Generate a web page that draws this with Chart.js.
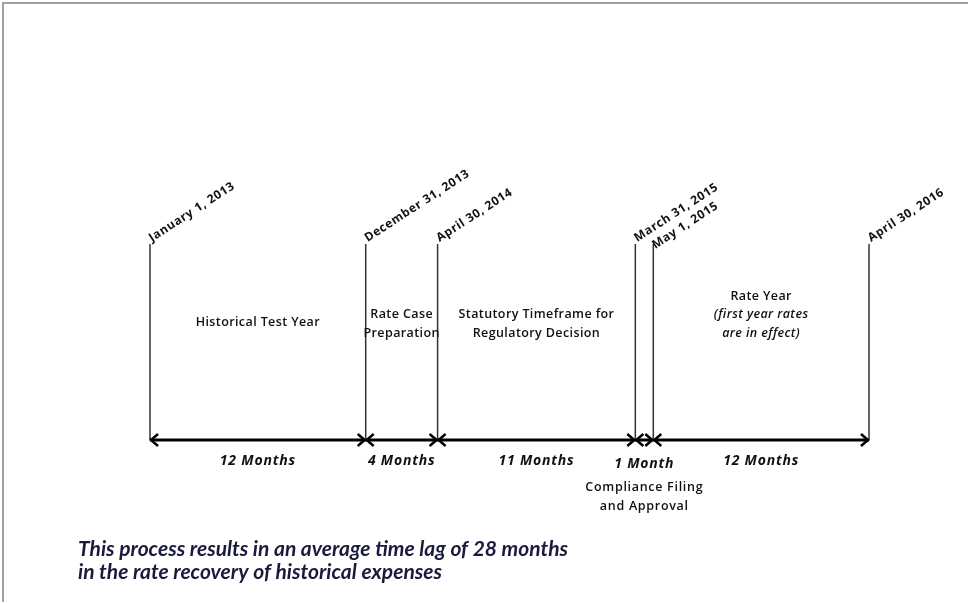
<!DOCTYPE html>
<html>
<head>
<meta charset="utf-8">
<script src="https://cdn.jsdelivr.net/npm/chart.js@4/dist/chart.umd.min.js"></script>
<style>
  body { margin: 0; background: #fff; }
  #wrap { position: relative; width: 970px; height: 604px; }
  .edge { position: absolute; background: #a0a0a0; }
</style>
</head>
<body>
<div id="wrap">
  <canvas id="timeline"></canvas>
  <div class="edge" style="left:2px;top:2px;width:966px;height:2px"></div>
  <div class="edge" style="left:2px;top:2px;width:2px;height:600px"></div>
</div>
<script>
// months counted from January 1, 2013
const milestoneMonths = [0, 12, 16, 27, 28, 40];
const milestoneLabels = ['January 1, 2013', 'December 31, 2013', 'April 30, 2014', 'March 31, 2015', 'May 1, 2015', 'April 30, 2016'];
const durationLabels = ['12 Months', '4 Months', '11 Months', '1 Month', '12 Months'];
const phaseLabels = [
  ['Historical Test Year'],
  ['Rate Case', 'Preparation'],
  ['Statutory Timeframe for', 'Regulatory Decision'],
  [],
  ['Rate Year', '(first year rates', 'are in effect)']
];
const belowLabels = [[], [], [], ['Compliance Filing', 'and Approval'], []];
const footnote = [
  'This process results in an average time lag of 28 months',
  'in the rate recovery of historical expenses'
];

const SANS = '"Open Sans", sans-serif';
const NOTE = 'Lato, "Open Sans", sans-serif';

const lineSets = milestoneMonths.map((m) => ({
  type: 'line',
  data: [{ x: m, y: 0 }, { x: m, y: 1 }],
  borderColor: '#333',
  borderWidth: 1.5,
  pointRadius: 0,
  clip: false
}));

const axisSet = {
  type: 'line',
  data: [{ x: milestoneMonths[0], y: 0 }, { x: milestoneMonths[milestoneMonths.length - 1], y: 0 }],
  borderColor: '#000',
  borderWidth: 3,
  pointRadius: 0,
  clip: false
};

const timelineText = {
  id: 'timelineText',
  afterDatasetsDraw(chart) {
    const { ctx, scales: { x, y } } = chart;
    const base = y.getPixelForValue(0);
    const top = y.getPixelForValue(1);
    ctx.save();
    ctx.fillStyle = '#111';
    ctx.strokeStyle = '#000';

    // arrowheads at both ends of each span
    ctx.lineWidth = 2.5;
    for (let i = 0; i < milestoneMonths.length - 1; i++) {
      const a = x.getPixelForValue(milestoneMonths[i]);
      const b = x.getPixelForValue(milestoneMonths[i + 1]);
      ctx.beginPath();
      ctx.moveTo(a + 8, base - 6); ctx.lineTo(a + 1, base); ctx.lineTo(a + 8, base + 6);
      ctx.moveTo(b - 8, base - 6); ctx.lineTo(b - 1, base); ctx.lineTo(b - 8, base + 6);
      ctx.stroke();
    }

    // milestone dates, slanted
    ctx.font = 'bold 12px ' + SANS;
    ctx.letterSpacing = '0.6px';
    ctx.textAlign = 'left';
    ctx.textBaseline = 'alphabetic';
    milestoneMonths.forEach((m, i) => {
      const px = x.getPixelForValue(m);
      const prev = i > 0 ? x.getPixelForValue(milestoneMonths[i - 1]) : -999;
      const drop = px - prev < 35 ? 7 : 0;
      ctx.save();
      ctx.translate(px + 2, top - 2 + drop);
      ctx.rotate(-33 * Math.PI / 180);
      ctx.fillText(milestoneLabels[i], 0, 0);
      ctx.restore();
    });

    // phase descriptions and durations
    ctx.textAlign = 'center';
    ctx.textBaseline = 'middle';
    for (let i = 0; i < durationLabels.length; i++) {
      const cx = (x.getPixelForValue(milestoneMonths[i]) + x.getPixelForValue(milestoneMonths[i + 1])) / 2;
      const lines = phaseLabels[i];
      const lastY = lines.length > 1 ? base - 107 : base - 118;
      let italic = false;
      ctx.letterSpacing = '0.4px';
      lines.forEach((t, k) => {
        if (t.startsWith('(')) italic = true;
        ctx.font = (italic ? 'italic ' : '') + '600 12.5px ' + SANS;
        ctx.fillText(t, cx, lastY - (lines.length - 1 - k) * 18.5);
      });
      ctx.font = 'italic bold 14px ' + SANS;
      ctx.letterSpacing = '0.8px';
      const small = milestoneMonths[i + 1] - milestoneMonths[i] < 2;
      ctx.fillText(durationLabels[i], cx, base + (small ? 24 : 21));
      ctx.font = '600 12.5px ' + SANS;
      ctx.letterSpacing = '0.7px';
      belowLabels[i].forEach((t, k) => {
        ctx.fillText(t, cx, base + 47 + k * 19);
      });
    }

    // summary note
    ctx.letterSpacing = '0px';
    ctx.textAlign = 'left';
    ctx.fillStyle = '#1a1a3c';
    ctx.font = 'italic bold 21px ' + NOTE;
    footnote.forEach((t, k) => ctx.fillText(t, 78, base + 109 + k * 23));
    ctx.restore();
  }
};

new Chart(document.getElementById('timeline'), {
  type: 'scatter',
  data: { datasets: [...lineSets, axisSet] },
  options: {
    responsive: true,
    maintainAspectRatio: false,
    animation: false,
    layout: { padding: { left: 150, right: 101, top: 244, bottom: 164 } },
    plugins: { legend: { display: false }, tooltip: { enabled: false } },
    scales: {
      x: { type: 'linear', min: 0, max: 40, display: false },
      y: { type: 'linear', min: 0, max: 1, display: false }
    }
  },
  plugins: [timelineText]
});
</script>
</body>
</html>
